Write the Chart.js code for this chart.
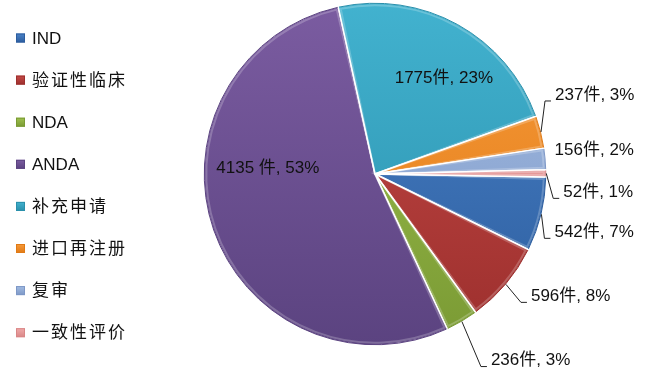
<!DOCTYPE html>
<html>
<head>
<meta charset="utf-8">
<script src="https://cdn.jsdelivr.net/npm/chart.js@4.4.0/dist/chart.umd.min.js"></script>
<style>
  html, body { margin: 0; padding: 0; background: #fff; }
  #wrap { width: 651px; height: 389px; }
</style>
</head>
<body>
<div id="wrap"><canvas id="chart"></canvas></div>
<script>
"use strict";

// data
var categories = ["IND", "验证性临床", "NDA", "ANDA", "补充申请", "进口再注册", "复审", "一致性评价"];
var counts = [542, 596, 236, 4135, 1775, 237, 156, 52];
var percents = ["7%", "8%", "3%", "53%", "23%", "3%", "2%", "1%"];

// slice colours, light (top) and dark (bottom) end of the shading
var topColors = ["#4a82c8", "#c64a47", "#9fc24e", "#7b5ca1", "#42b2cf", "#f79a3a", "#a3bde3", "#f0aaaa"];
var bottomColors = ["#2c5d9e", "#9c2f2d", "#7a9a34", "#5b4380", "#2a8fab", "#e07a15", "#7d97c6", "#d98686"];

// where each value label sits, relative to the slice edge at its middle angle
var labelDx = [13, 25, 29, 55, -14, 14, 9, 17];
var labelDy = [18, 12, 39, -61, 54, -37, -9, 19];
var labelInside = [false, false, false, true, true, false, false, false];
var labelLeader = [true, true, true, false, false, true, false, true];

var FONT = '"Liberation Sans", "Noto Sans CJK SC", sans-serif';

function labelText(i) {
  // the ANDA label has a space before 件 in the original
  var sep = i === 3 ? " 件, " : "件, ";
  return counts[i] + sep + percents[i];
}

function shade(ctx, top, bottom, i) {
  var g = ctx.createLinearGradient(0, top, 0, bottom);
  g.addColorStop(0, topColors[i]);
  g.addColorStop(1, bottomColors[i]);
  return g;
}

// soft bevel on every slice edge
var bevel = {
  id: "bevel",
  afterDatasetsDraw: function (chart) {
    var ctx = chart.ctx;
    var meta = chart.getDatasetMeta(0);
    ctx.save();
    meta.data.forEach(function (arc, i) {
      var p = arc.getProps(["x", "y", "startAngle", "endAngle", "outerRadius"], true);
      ctx.beginPath();
      ctx.moveTo(p.x, p.y);
      ctx.arc(p.x, p.y, p.outerRadius - 2.5, p.startAngle + 0.012, p.endAngle - 0.012);
      ctx.closePath();
      ctx.strokeStyle = "rgba(255,255,255,0.22)";
      ctx.lineWidth = 2;
      ctx.stroke();
      ctx.beginPath();
      ctx.arc(p.x, p.y, p.outerRadius - 0.5, p.startAngle + 0.004, p.endAngle - 0.004);
      ctx.strokeStyle = bottomColors[i];
      ctx.lineWidth = 1;
      ctx.stroke();
    });
    ctx.restore();
  }
};

// value labels with leader lines
var valueLabels = {
  id: "valueLabels",
  afterDatasetsDraw: function (chart) {
    var ctx = chart.ctx;
    var meta = chart.getDatasetMeta(0);
    ctx.save();
    ctx.font = "17px " + FONT;
    ctx.textBaseline = "middle";
    ctx.fillStyle = "#111";
    ctx.strokeStyle = "#222";
    ctx.lineWidth = 1;
    meta.data.forEach(function (arc, i) {
      var p = arc.getProps(["x", "y", "startAngle", "endAngle", "outerRadius"], true);
      var mid = (p.startAngle + p.endAngle) / 2;
      var ax = p.x + Math.cos(mid) * p.outerRadius;
      var ay = p.y + Math.sin(mid) * p.outerRadius;
      var tx = ax + labelDx[i];
      var ty = ay + labelDy[i];
      ctx.textAlign = labelInside[i] ? "center" : "left";
      if (labelLeader[i]) {
        ctx.beginPath();
        ctx.moveTo(ax, ay);
        ctx.lineTo(tx - 10, ty + 6);
        ctx.lineTo(tx - 4, ty + 6);
        ctx.stroke();
      }
      ctx.fillText(labelText(i), tx, ty);
    });
    ctx.restore();
  }
};

// legend column on the left
var sideLegend = {
  id: "sideLegend",
  afterDraw: function (chart) {
    var ctx = chart.ctx;
    ctx.save();
    ctx.font = "17px " + FONT;
    ctx.textBaseline = "middle";
    ctx.textAlign = "left";
    categories.forEach(function (name, i) {
      var cy = 38 + i * 42.1;
      ctx.fillStyle = shade(ctx, cy - 4.5, cy + 4.5, i);
      ctx.fillRect(16, cy - 4.5, 9, 9);
      ctx.strokeStyle = bottomColors[i];
      ctx.lineWidth = 1;
      ctx.strokeRect(16.5, cy - 4, 8, 8);
      ctx.fillStyle = "#111";
      // the CJK names are set wider in the original
      ctx.letterSpacing = /[^\x00-\x7f]/.test(name) ? "2px" : "0px";
      ctx.fillText(name, 32, cy + 1);
    });
    ctx.restore();
  }
};

var ctx = document.getElementById("chart");

var myChart = new Chart(ctx, {
  type: "pie",
  data: {
    labels: categories,
    datasets: [{
      data: counts,
      backgroundColor: function (context) {
        var chart = context.chart;
        var area = chart.chartArea;
        var i = context.dataIndex;
        if (!area) return topColors[i];
        return shade(chart.ctx, area.top, area.bottom, i);
      },
      borderColor: "#ffffff",
      borderWidth: 1.5
    }]
  },
  options: {
    responsive: true,
    maintainAspectRatio: false,
    animation: false,
    rotation: 91,
    layout: {
      padding: { left: 200, right: 101, top: 2, bottom: 43 }
    },
    plugins: {
      legend: { display: false },
      tooltip: { enabled: false }
    }
  },
  plugins: [bevel, valueLabels, sideLegend]
});
</script>
</body>
</html>
